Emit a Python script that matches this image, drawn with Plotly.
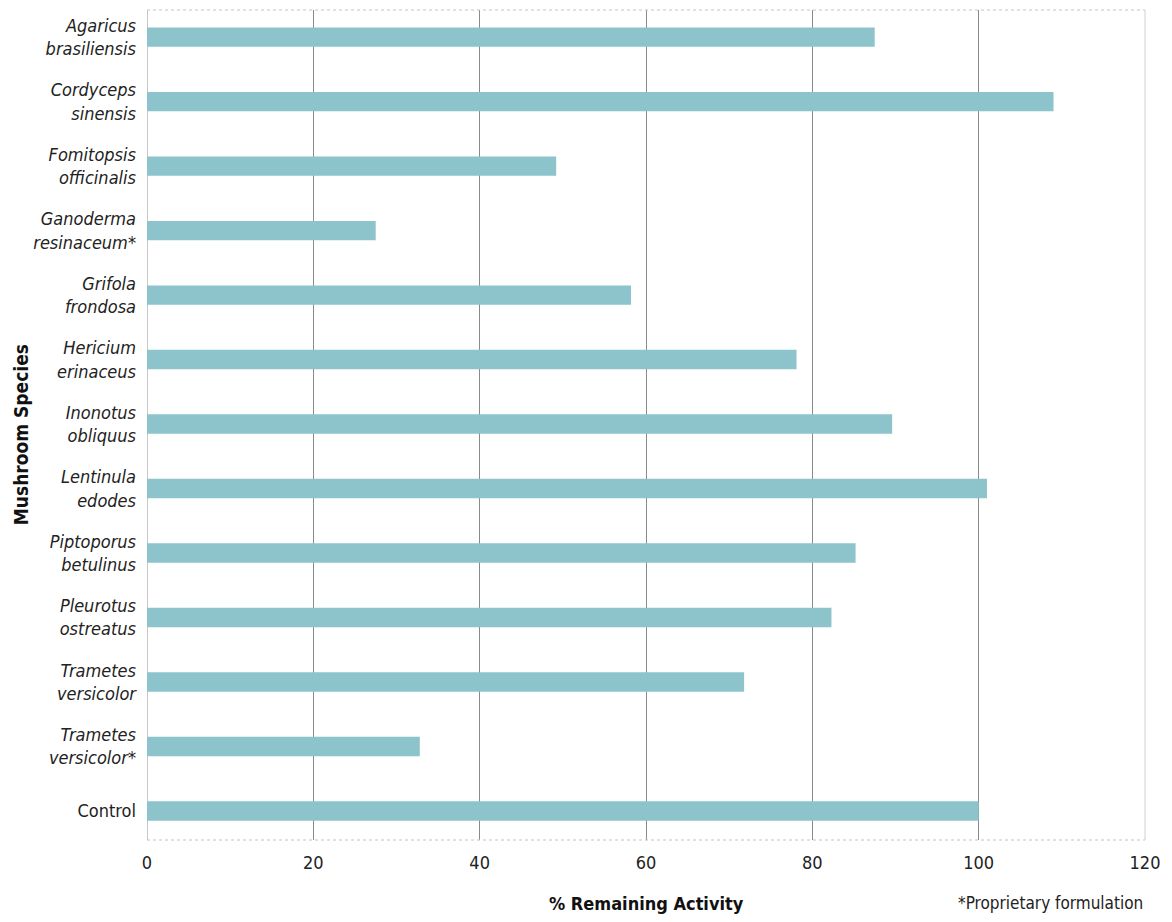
import plotly.graph_objects as go

# ---- data ----
species = [
    "Agaricus brasiliensis",
    "Cordyceps sinensis",
    "Fomitopsis officinalis",
    "Ganoderma resinaceum*",
    "Grifola frondosa",
    "Hericium erinaceus",
    "Inonotus obliquus",
    "Lentinula edodes",
    "Piptoporus betulinus",
    "Pleurotus ostreatus",
    "Trametes versicolor",
    "Trametes versicolor*",
    "Control",
]
remaining_activity = [87.5, 109.0, 49.2, 27.5, 58.2, 78.1, 89.6, 101.0, 85.2, 82.3, 71.8, 32.8, 100.0]
x_ticks = [0, 20, 40, 60, 80, 100, 120]

FONT = "DejaVu Sans Condensed, Liberation Sans Narrow, Arial Narrow, Arial, sans-serif"
BAR_COLOR = "#8dc4cb"


def fmt(name):
    if name == "Control":
        return name
    first, second = name.split(" ", 1)
    return f"<i>{first}</i><br><i>{second}</i>"


labels = [fmt(s) for s in species]

fig = go.Figure(
    go.Bar(
        x=remaining_activity,
        y=labels,
        orientation="h",
        width=0.3,
        marker=dict(color=BAR_COLOR, line=dict(width=0)),
        hoverinfo="x+y",
    )
)

fig.update_layout(
    width=1156,
    height=906,
    margin=dict(l=139, r=19, t=2, b=74),
    paper_bgcolor="white",
    plot_bgcolor="white",
    showlegend=False,
    font=dict(family=FONT, color="#222"),
    xaxis=dict(
        range=[0, 120],
        tickvals=x_ticks,
        ticktext=[str(v) for v in x_ticks],
        tickfont=dict(size=18, color="#222"),
        showgrid=True,
        gridcolor="#8a8a8a",
        gridwidth=1,
        zeroline=True,
        zerolinecolor="#c8c8c8",
        zerolinewidth=1,
        showline=False,
        ticks="",
        ticklabelstandoff=10,
        fixedrange=True,
    ),
    yaxis=dict(
        categoryorder="array",
        categoryarray=labels,
        range=[12.45, -0.42],
        tickfont=dict(size=18, color="#222"),
        showgrid=False,
        zeroline=False,
        showline=False,
        ticks="",
        ticklabelstandoff=10,
        fixedrange=True,
    ),
    shapes=[
        dict(type="line", xref="paper", yref="paper", x0=0, x1=1, y0=1, y1=1,
             line=dict(color="#c4c4c4", width=1, dash="dot")),
        dict(type="line", xref="paper", yref="paper", x0=0, x1=1, y0=0, y1=0,
             line=dict(color="#c4c4c4", width=1, dash="dot")),
        dict(type="line", xref="paper", yref="paper", x0=1, x1=1, y0=0, y1=1,
             line=dict(color="#d0d0d0", width=1)),
    ],
    annotations=[
        dict(text="<b>% Remaining Activity</b>", xref="paper", yref="paper",
             x=0.5, y=-0.076, xanchor="center", yanchor="middle", showarrow=False,
             font=dict(size=18, color="#111", family=FONT)),
        dict(text="<b>Mushroom Species</b>", xref="paper", yref="paper",
             x=-0.126, y=0.488, xanchor="center", yanchor="middle", showarrow=False,
             textangle=-90,
             font=dict(size=19, color="#111", family=FONT)),
        dict(text="*Proprietary formulation", xref="paper", yref="paper",
             x=1.0, y=-0.076, xanchor="right", yanchor="middle", showarrow=False,
             font=dict(size=17, color="#222", family=FONT)),
    ],
)

fig.write_html("out.html")
